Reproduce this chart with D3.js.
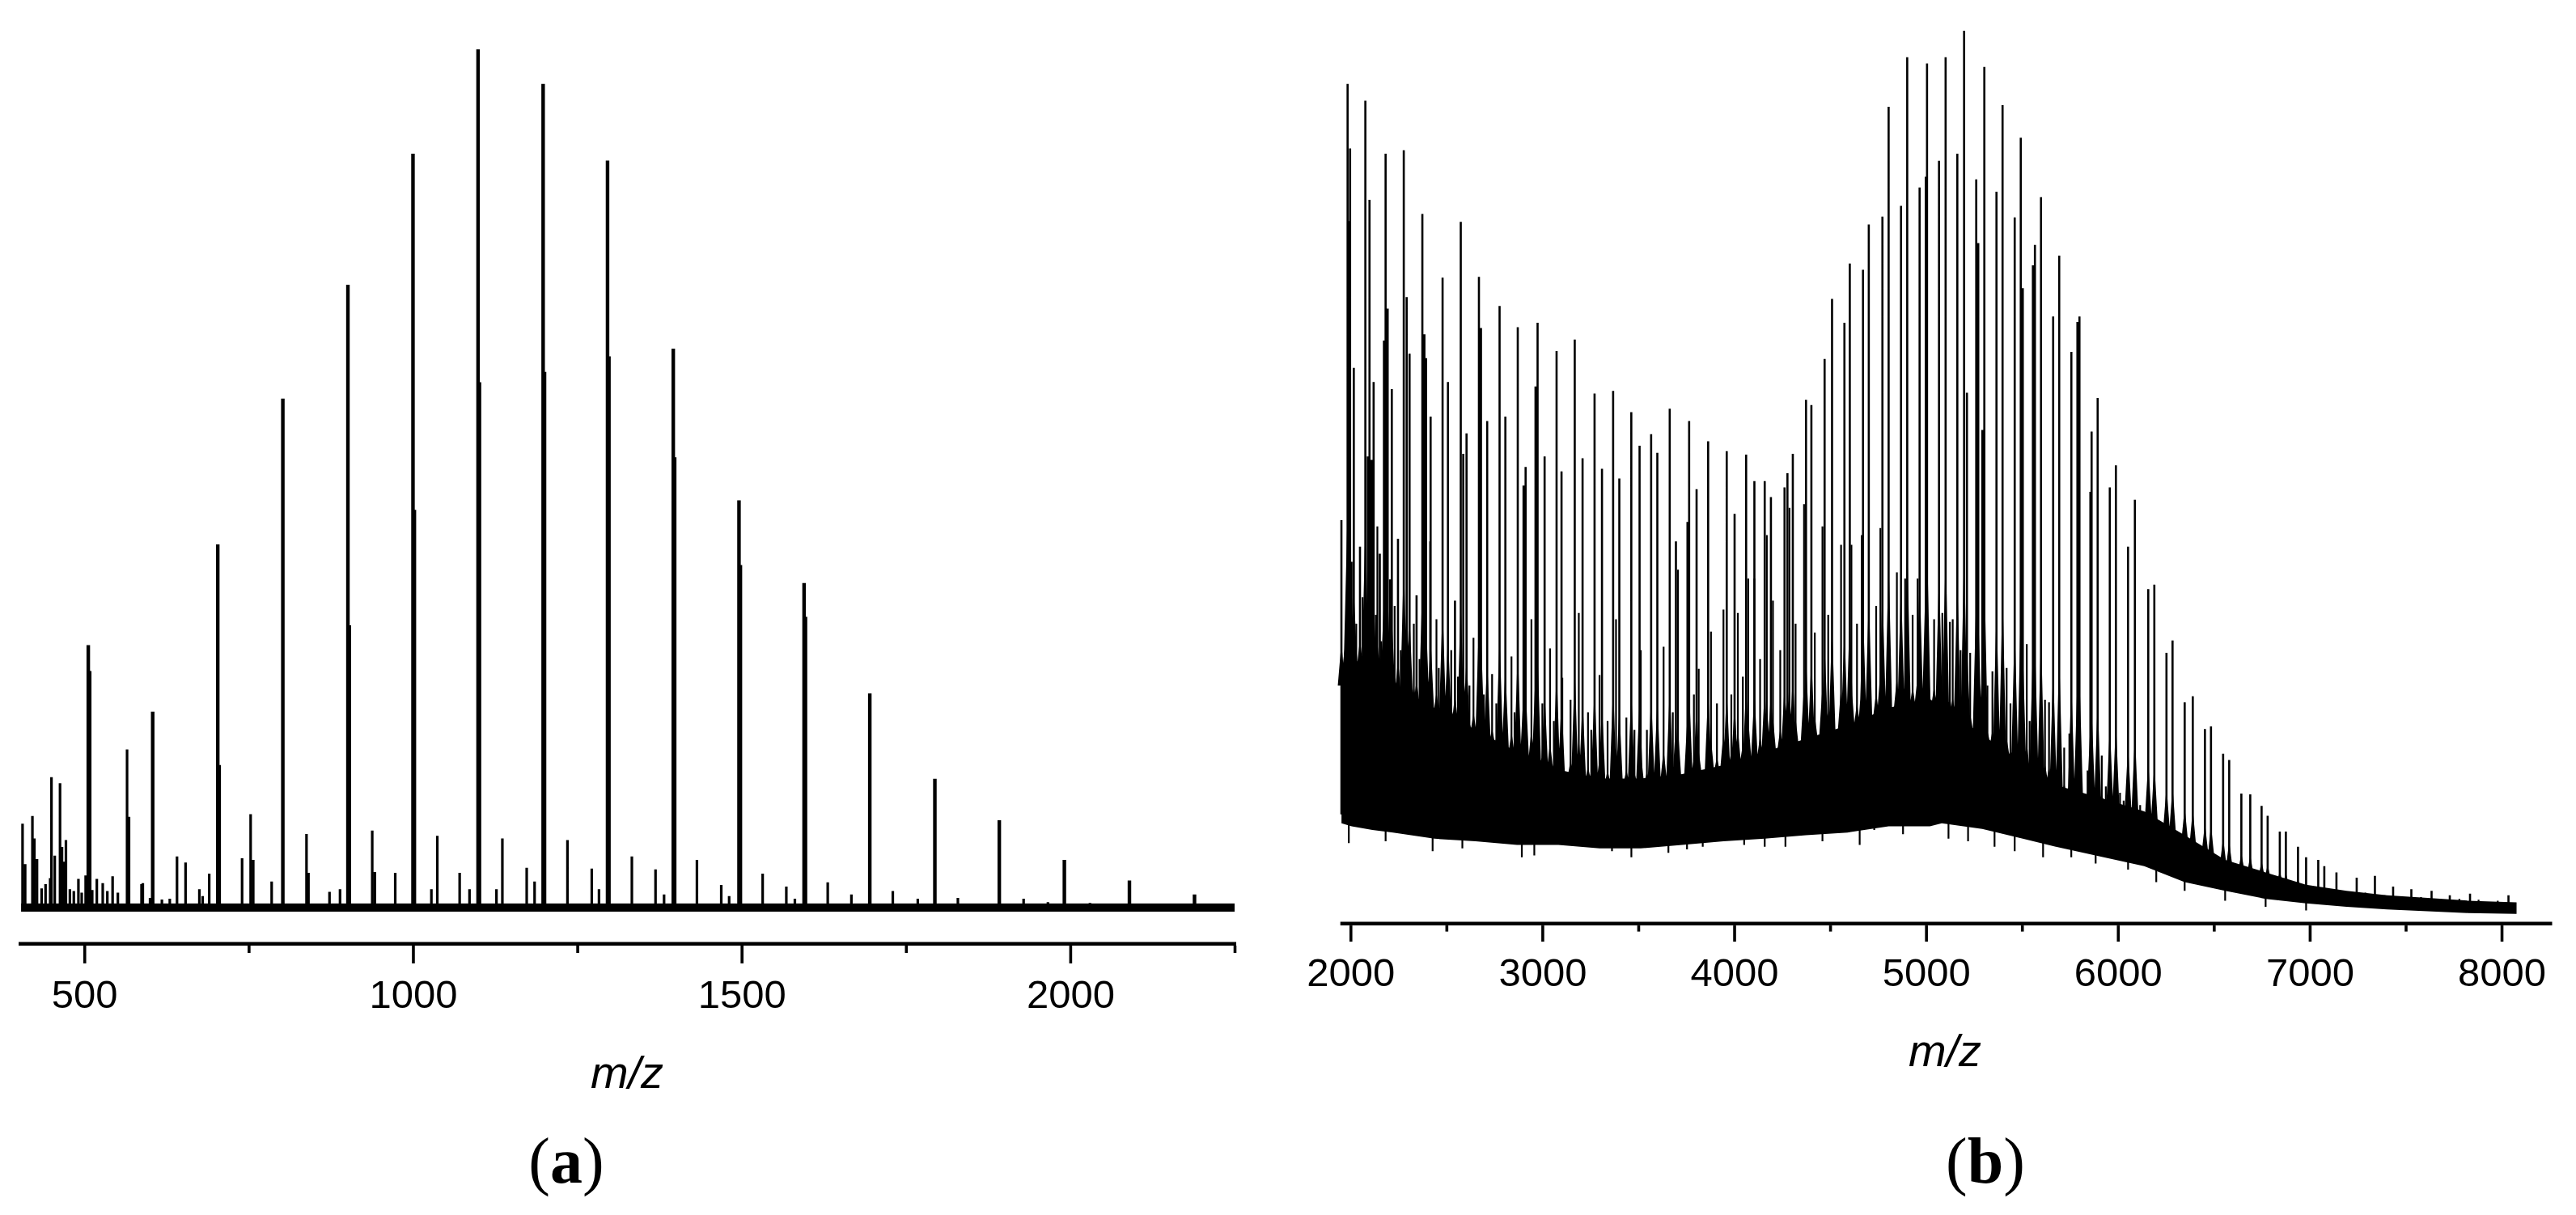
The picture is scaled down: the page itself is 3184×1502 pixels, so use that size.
<!DOCTYPE html>
<html><head><meta charset="utf-8">
<script src="https://cdnjs.cloudflare.com/ajax/libs/d3/7.8.5/d3.min.js"></script>
<style>
html,body{margin:0;padding:0;background:#fff;}
svg{display:block;}
</style></head>
<body><svg id="c" width="3184" height="1502"></svg>
<script>
// ---------- Panel (a) data ----------
const aTicksMajor = [500, 1000, 1500, 2000];
const aTicksMinor = [750, 1250, 1750, 2250];
const aMainMz = [506,604,703,802,901,1000,1099,1198,1296,1396,1496,1595,1695,1794,1892,1991,2090,2189];
const aMainI  = [30.9,23.2,42.6,59.5,72.7,87.9,100,96,87.1,65.3,47.7,38.1,25.3,15.4,10.6,6.0,3.6,2.0];
const aShoulderMz = [509,706,904,1003,1102,1201,1299,1399,1499,1598];
const aShoulderI  = [27.9,17,33.2,46.6,61.4,62.6,64.4,52.7,40.2,34.2];
const aMinorMz = [406,410,421,424,428,435,441,448,450,455,463,466,469,472,478,484,491,496,502,512,519,528,535,543,551,565,568,587,589,600,618,630,641,654,675,680,690,740,753,757,785,838,841,873,889,938,942,973,1028,1037,1071,1086,1127,1136,1173,1185,1235,1272,1283,1333,1369,1382,1432,1469,1481,1532,1568,1581,1631,1667,1730,1768,1829,1929,1966,2030,2130];
const aMinorI  = [10.2,5.5,11.1,8.5,6.1,2.7,3.2,3.9,15.6,6.5,14.9,7.5,5.8,8.3,2.6,2.4,3.8,2.2,4.2,2.5,3.8,3.3,2.4,4.1,2.2,18.8,11.0,3.2,3.3,1.6,1.4,1.5,6.4,5.7,2.6,1.8,4.4,6.2,11.3,6.0,3.5,9.0,4.5,2.3,2.6,9.4,4.6,4.5,2.6,8.8,4.5,2.6,2.6,8.5,5.1,3.5,8.3,5.0,2.6,6.4,4.9,2.0,6.0,3.1,1.8,4.4,2.9,1.5,3.4,2.0,2.4,1.5,1.6,1.5,1.1,1.0,0.9];
const aBaseStart = 404, aBaseEnd = 2250, aBaseLevel = 0.95;

// ---------- Panel (b) data ----------
const bTicksMajor = [2000,3000,4000,5000,6000,7000,8000];
const bTicksMinor = [2500,3500,4500,5500,6500,7500];
const bPeakMz = [1952.6,1984.8,1991.3,1997.8,2017.1,2049.4,2077.4,2090.3,2099,2109.7,2120.5,2152.7,2174.3,2182.9,2193.7,2215.2,2247.5,2277.6,2292.7,2307.8,2344.3,2374.5,2385.2,2393.8,2417.5,2479.9,2507.9,2544.5,2574.7,2587.6,2604.8,2669.4,2680.1,2712.4,2777,2807.2,2871.8,2901.9,2912.7,2964.3,2975.1,3011.7,3074.1,3099.9,3168.8,3209.6,3272.1,3310.8,3368.9,3401.2,3463.6,3506.7,3567,3599.3,3663.9,3696.2,3756.5,3765.1,3803.9,3864.2,3961,4002,4062.2,4105.2,4159,4191.4,4262.4,4277.5,4305.5,4374.3,4402.3,4471.2,4510,4574.5,4602.5,4671.4,4701.5,4772.6,4804.9,4869.5,4901.8,4966.4,4998.7,5005.1,5067.6,5102,5163,5198.3,5213.1,5261.6,5272.2,5293.3,5303.8,5367.1,5398.8,5462.1,5493.7,5504.2,5557,5567.5,5599.2,5662.5,5694.1,5757.4,5789,5799.6,5856.6,5862.9,5894.5,5957.8,5989.5,6052.8,6088.6,6158.2,6189.9,6253.2,6284.8,6348.1,6390.3,6453.6,6485.2,6548.5,6580.2,6643.5,6689.9,6749,6780.6,6843.9,6875.5,6938.8,6981,7044.3,7075.9,7139.2,7244.7,7339.7,7434.6,7529.6,7635,7730,7835.5,8035.9];
const bPeakI = [44.7,94.0,78.5,86.7,61.9,41.7,92.1,51.9,80.9,51.5,60.3,40.9,65.0,86.1,68.6,59.5,42.6,86.5,69.9,63.5,36.2,79.3,65.7,63.0,56.4,72.1,60.3,35.6,78.4,52.2,54.5,72.2,66.4,55.9,68.9,56.4,66.5,48.6,50.7,59.8,67.0,51.9,63.8,50.2,65.1,51.7,59.0,50.5,59.3,49.4,56.9,53.1,54.4,52.3,57.3,42.3,44.5,55.9,48.2,53.6,52.5,45.4,52.1,49.1,49.1,47.3,48.4,50.0,52.2,58.3,57.7,62.9,69.7,67.0,73.7,73.0,78.1,79.0,91.4,80.2,97.0,82.3,83.5,96.3,85.3,97.0,86.1,100,59.1,83.2,76.0,54.9,95.9,81.8,91.6,78.9,87.9,70.9,73.5,75.8,81.2,67.7,74.6,63.7,67.1,67.7,47.9,54.7,58.5,48.4,50.9,41.7,47.0,36.9,37.4,29.7,31.1,24.1,24.8,21.1,21.4,18.3,17.6,13.8,13.7,12.4,11.3,9.5,9.5,7.8,6.6,6.3,5.6,4.9,4.3,4.5,3.3,3.0,2.8,2.3,2.5,2.3];
// medium-height lines inside the noisy band
const bMidMz = [2006,2030,2063,2132,2140,2160,2205,2230,2262,2330,2360,2415,2448,2460,2525,2560,2620,2641,2695,2738,2760,2839,2855,2911,2943,3000,3040,3060,3104,3147,3190,3238,3255,3298,3340,3384,3438,3480,3513,3545,3599,3632,3680,3707,3761,3790,3815,3879,3910,3944,3985,4019,4045,4073,4105,4135,4170,4202,4240,4288,4320,4364,4420,4460,4490,4557,4611,4640,4665,4740,4762,4848,4891,4930,4956,5042,5085,5124,5139,5180,5230,5320,5346,5420,5440,5525,5540,5620,5641,5720,5747,5842,5916,5937,6011,6030,6116,6130,6200,6230,6306,6320,6411,6430,6520,6610,6720,6810,6905,7010,7105,7190,7290,7390,7480,7580,7680,7780,7880,7980];
const bMidI  = [40,33,36,34,44,31,38,35,30,33,29,42.3,33.5,28,30,27,26,31.4,25,27.3,24,29.3,23,32.8,33.5,24,30.2,22,26.9,24.4,34.2,23.0,21,27.2,22,33.5,22.4,21,30.0,21,20.6,30.4,23,39.1,39.1,25,27.9,32.1,24,34.6,25,34.2,27,38.1,38.1,29,43.0,35.6,30,46.1,33,46.5,32,44.0,34,41.9,41.9,33,43.0,35,43.8,38.8,38.1,34,38.1,33.5,34.2,33.2,33.5,30,29.7,26,27.6,28.0,24,30.7,22,24.4,24.1,19,20.6,16.4,18.1,14.6,13.9,13,12.5,11.5,9.7,9.5,7.0,7.0,5.2,5.5,4.8,4.2,3.8,3.6,3.3,3.0,2.9,2.7,2.6,2.3,2.2,2.1,1.9,1.9,1.8,1.7];
// downward spikes on the lower edge of the noise band
const bDipMz = [1991,2183,2428,2583,2893,2958,3363,3464,3657,3754,3836,4052,4159,4267,4460,4654,4730,4880,5117,5219,5357,5462,5610,5757,5884,6053,6200,6348,6559,6770,6981];
const bDipI  = [8.2,8.4,7.3,7.6,6.6,6.8,7.3,6.6,7.1,7.5,7.8,8.0,7.8,7.8,8.4,8.0,9.7,9.2,8.7,8.4,7.8,7.3,6.6,6.6,5.9,5.2,3.8,2.8,1.7,1.0,0.6];
const bBandMz   = [1953,1974,2006,2114,2222,2437,2652,2868,3083,3298,3513,3728,3944,4159,4374,4590,4805,5020,5082,5293,5504,5715,5926,6137,6348,6559,6770,6981,7192,7403,7614,7825,8078];
const bBandLow  = [10.45,10.3,10.1,9.7,9.4,8.7,8.4,8.0,8.0,7.6,7.6,8.0,8.4,8.7,9.1,9.4,10.1,10.1,10.45,9.8,8.7,7.6,6.6,5.6,3.8,2.8,1.9,1.4,1.0,0.7,0.5,0.3,0.2];
const bBandHigh = [27,31,29,28,25.5,23.5,21,18.5,16.5,15.5,15.5,16,17,18.5,20,21.5,23.5,24.5,23.5,20.5,17,14.5,13.2,11.8,9.1,6.3,4.9,3.5,2.8,2.3,2.0,1.7,1.5];

const axisLabel = "m/z";
const panelLetters = ["a", "b"];

// ---------- drawing ----------
const svg = d3.select("#c");
const SANS = "'Liberation Sans', Arial, sans-serif";

function drawAxis(g, x, yLine, majors, minors, majLen, minLen) {
  const x0 = x.range()[0], x1 = x.range()[1];
  g.append("line").attr("x1", x0).attr("x2", x1 + 2).attr("y1", yLine).attr("y2", yLine)
    .attr("stroke", "#000").attr("stroke-width", 4.6);
  const gy = yLine + 2.3;
  const maj = g.append("g").attr("transform", `translate(0,${gy})`)
    .call(d3.axisBottom(x).tickValues(majors).tickSize(majLen).tickPadding(20).tickSizeOuter(0).tickFormat(d3.format("d")));
  maj.select(".domain").remove();
  maj.selectAll(".tick line").attr("stroke", "#000").attr("stroke-width", 3.6);
  maj.selectAll(".tick text").attr("font-size", 49).attr("fill", "#000").attr("font-family", SANS);
  const mn = g.append("g").attr("transform", `translate(0,${gy})`)
    .call(d3.axisBottom(x).tickValues(minors).tickSize(minLen).tickFormat(""));
  mn.select(".domain").remove();
  mn.selectAll(".tick line").attr("stroke", "#000").attr("stroke-width", 3.6);
}

function sticks(x, y, mz, inten, base) {
  return mz.map((m, i) => `M${x(m)},${y(base(m))}V${y(inten[i])}`).join("");
}

// Panel (a)
const xA = d3.scaleLinear().domain([400, 2250]).range([23, 1526]);
const yA = d3.scaleLinear().domain([0, 100]).range([1127, 61]);
const gA = svg.append("g");
gA.append("rect").attr("x", xA(aBaseStart)).attr("y", yA(aBaseLevel))
  .attr("width", xA(aBaseEnd) - xA(aBaseStart)).attr("height", yA(0) - yA(aBaseLevel)).attr("fill", "#000");
gA.append("path").attr("d", sticks(xA, yA, aMinorMz, aMinorI, () => 0))
  .attr("stroke", "#000").attr("stroke-width", 3.2).attr("fill", "none");
gA.append("path").attr("d", sticks(xA, yA, aShoulderMz, aShoulderI, () => 0))
  .attr("stroke", "#000").attr("stroke-width", 3).attr("fill", "none");
gA.append("path").attr("d", sticks(xA, yA, aMainMz, aMainI, () => 0))
  .attr("stroke", "#000").attr("stroke-width", 4.4).attr("fill", "none");
drawAxis(gA, xA, 1166.7, aTicksMajor, aTicksMinor, 22, 9);
gA.append("text").attr("x", 775).attr("y", 1345).attr("text-anchor", "middle")
  .attr("font-family", SANS).attr("font-style", "italic").attr("font-size", 56).text(axisLabel);

// Panel (b)
const xB = d3.scaleLinear().domain([1947, 8255]).range([1656.7, 3152.5]);
const yB = d3.scaleLinear().domain([0, 100]).range([1132, 38]);
const lowAt = d3.scaleLinear().domain(bBandMz).range(bBandLow).clamp(true);
const highAt = d3.scaleLinear().domain(bBandMz).range(bBandHigh).clamp(true);
const gB = svg.append("g");
const band = bBandMz.map((m, i) => ({m, lo: bBandLow[i], hi: bBandHigh[i]}));
gB.append("path").datum(band)
  .attr("d", d3.area().x(d => xB(d.m)).y0(d => yB(d.lo)).y1(d => yB(d.hi)))
  .attr("fill", "#000");
// tapered bases under every line (peak shape)
const allMz = bPeakMz.concat(bMidMz), allI = bPeakI.concat(bMidI);
gB.append("path").attr("d", allMz.map((m, i) => {
    const base = highAt(m) - 1, top = base + (allI[i] - base) * 0.26;
    if (top <= base) return "";
    const cx = xB(m);
    return `M${cx - 4.5},${yB(base)}L${cx},${yB(top)}L${cx + 4.5},${yB(base)}Z`;
  }).join("")).attr("fill", "#000");
gB.append("path").attr("d", sticks(xB, yB, bDipMz, bDipI, m => lowAt(m) + 1))
  .attr("stroke", "#000").attr("stroke-width", 2.2).attr("fill", "none");
gB.append("path").attr("d", sticks(xB, yB, bMidMz, bMidI, m => lowAt(m) + 1))
  .attr("stroke", "#000").attr("stroke-width", 2.2).attr("fill", "none");
gB.append("path").attr("d", sticks(xB, yB, bPeakMz, bPeakI, m => lowAt(m) + 1))
  .attr("stroke", "#000").attr("stroke-width", 2.6).attr("fill", "none");
drawAxis(gB, xB, 1141.8, bTicksMajor, bTicksMinor, 20, 7.5);
gB.append("text").attr("x", 2404).attr("y", 1318).attr("text-anchor", "middle")
  .attr("font-family", SANS).attr("font-style", "italic").attr("font-size", 56).text(axisLabel);

// Panel letters
[[700, panelLetters[0]], [2454, panelLetters[1]]].forEach(([cx, l]) => {
  const t = svg.append("text").attr("x", cx).attr("y", 1462).attr("text-anchor", "middle")
    .attr("font-family", "'Liberation Serif', 'Times New Roman', serif").attr("font-size", 80);
  t.append("tspan").text("(");
  t.append("tspan").attr("font-weight", "bold").text(l);
  t.append("tspan").text(")");
});
</script></body></html>
